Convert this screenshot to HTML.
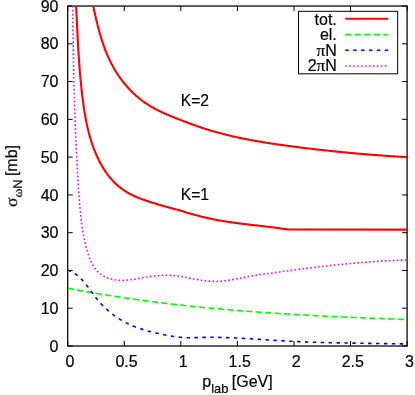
<!DOCTYPE html>
<html><head><meta charset="utf-8"><title>plot</title>
<style>html,body{margin:0;padding:0;background:#fff;}body{width:415px;height:395px;overflow:hidden;font-family:"Liberation Sans",sans-serif;}</style>
</head><body>
<svg width="415" height="395" viewBox="0 0 415 395" style="display:block">
<defs><clipPath id="c"><rect x="67.70" y="6.05" width="339.40" height="339.95"/></clipPath></defs>
<rect width="415" height="395" fill="#fff"/>
<g stroke="#000" stroke-width="1.25" fill="none">
<rect x="67.70" y="6.05" width="339.40" height="339.95"/>
<path d="M67.70,346.00h5 M407.10,346.00h-5" stroke-width="1"/>
<path d="M67.70,308.23h5 M407.10,308.23h-5" stroke-width="1"/>
<path d="M67.70,270.46h5 M407.10,270.46h-5" stroke-width="1"/>
<path d="M67.70,232.68h5 M407.10,232.68h-5" stroke-width="1"/>
<path d="M67.70,194.91h5 M407.10,194.91h-5" stroke-width="1"/>
<path d="M67.70,157.14h5 M407.10,157.14h-5" stroke-width="1"/>
<path d="M67.70,119.37h5 M407.10,119.37h-5" stroke-width="1"/>
<path d="M67.70,81.59h5 M407.10,81.59h-5" stroke-width="1"/>
<path d="M67.70,43.82h5 M407.10,43.82h-5" stroke-width="1"/>
<path d="M67.70,6.05h5 M407.10,6.05h-5" stroke-width="1"/>
<path d="M67.70,346.00v-5 M67.70,6.05v5" stroke-width="1"/>
<path d="M124.27,346.00v-5 M124.27,6.05v5" stroke-width="1"/>
<path d="M180.83,346.00v-5 M180.83,6.05v5" stroke-width="1"/>
<path d="M237.40,346.00v-5 M237.40,6.05v5" stroke-width="1"/>
<path d="M293.97,346.00v-5 M293.97,6.05v5" stroke-width="1"/>
<path d="M350.53,346.00v-5 M350.53,6.05v5" stroke-width="1"/>
<path d="M407.10,346.00v-5 M407.10,6.05v5" stroke-width="1"/>
</g>
<g fill="none" clip-path="url(#c)" stroke-linejoin="round">
<path d="M90.67,-5.97 L90.87,-5.02 L91.07,-4.07 L91.28,-3.12 L91.48,-2.17 L91.68,-1.21 L91.88,-0.26 L92.09,0.70 L92.29,1.66 L92.50,2.62 L92.70,3.58 L92.91,4.54 L93.11,5.50 L93.32,6.47 L93.53,7.43 L93.74,8.40 L93.95,9.36 L94.16,10.33 L94.37,11.29 L94.59,12.26 L94.80,13.23 L95.02,14.20 L95.24,15.16 L95.46,16.13 L95.68,17.10 L95.91,18.07 L96.14,19.04 L96.37,20.00 L96.60,20.97 L96.83,21.94 L97.07,22.91 L97.31,23.87 L97.55,24.84 L97.80,25.80 L98.05,26.77 L98.30,27.73 L98.55,28.70 L98.81,29.66 L99.07,30.62 L99.34,31.58 L99.61,32.54 L99.88,33.50 L100.16,34.45 L100.44,35.41 L100.72,36.36 L101.01,37.32 L101.30,38.27 L101.60,39.22 L101.90,40.16 L102.20,41.11 L102.51,42.05 L102.83,43.00 L103.15,43.94 L103.47,44.87 L103.80,45.81 L104.14,46.74 L104.48,47.68 L104.82,48.61 L105.17,49.53 L105.53,50.46 L105.89,51.38 L106.26,52.30 L106.63,53.21 L107.01,54.13 L107.40,55.04 L107.79,55.95 L108.19,56.85 L108.59,57.75 L109.00,58.65 L109.42,59.55 L109.84,60.44 L110.27,61.33 L110.71,62.22 L111.15,63.10 L111.60,63.98 L112.06,64.85 L112.53,65.72 L113.00,66.59 L113.48,67.45 L113.97,68.31 L114.46,69.17 L114.97,70.02 L115.48,70.87 L116.00,71.71 L116.52,72.55 L117.06,73.38 L117.60,74.21 L118.15,75.04 L118.70,75.86 L119.27,76.67 L119.84,77.48 L120.41,78.29 L121.00,79.09 L121.59,79.88 L122.19,80.67 L122.80,81.45 L123.41,82.23 L124.03,83.01 L124.66,83.77 L125.29,84.54 L125.94,85.29 L126.58,86.04 L127.24,86.78 L127.90,87.52 L128.57,88.25 L129.25,88.98 L129.93,89.70 L130.62,90.41 L131.31,91.11 L132.01,91.81 L132.72,92.50 L133.43,93.19 L134.15,93.86 L134.88,94.53 L135.61,95.20 L136.35,95.85 L137.10,96.50 L137.85,97.14 L138.61,97.77 L139.37,98.40 L140.14,99.02 L140.91,99.63 L141.70,100.23 L142.48,100.82 L143.27,101.41 L144.07,101.98 L144.88,102.55 L145.69,103.11 L146.50,103.67 L147.32,104.21 L148.15,104.74 L148.98,105.27 L149.82,105.78 L150.66,106.29 L151.51,106.79 L152.36,107.29 L153.22,107.77 L154.08,108.25 L154.94,108.72 L155.81,109.18 L156.69,109.64 L157.57,110.09 L158.45,110.53 L159.33,110.97 L160.22,111.40 L161.11,111.83 L162.01,112.25 L162.91,112.66 L163.81,113.07 L164.71,113.48 L165.62,113.88 L166.53,114.28 L167.44,114.67 L168.35,115.06 L169.27,115.44 L170.18,115.82 L171.10,116.20 L172.02,116.58 L172.94,116.95 L173.87,117.32 L174.79,117.69 L175.71,118.06 L176.64,118.42 L177.56,118.79 L178.49,119.15 L179.42,119.51 L180.34,119.87 L181.27,120.23 L182.20,120.59 L183.12,120.94 L184.05,121.30 L184.98,121.65 L185.91,122.00 L186.83,122.35 L187.76,122.70 L188.69,123.05 L189.62,123.40 L190.55,123.74 L191.48,124.08 L192.41,124.42 L193.34,124.76 L194.28,125.10 L195.21,125.43 L196.14,125.76 L197.08,126.09 L198.01,126.41 L198.95,126.74 L199.88,127.06 L200.82,127.37 L201.76,127.69 L202.70,128.00 L203.64,128.31 L204.58,128.61 L205.52,128.92 L206.46,129.22 L207.40,129.51 L208.35,129.80 L209.29,130.09 L210.24,130.38 L211.19,130.66 L212.13,130.94 L213.08,131.22 L214.03,131.49 L214.98,131.77 L215.93,132.03 L216.88,132.30 L217.84,132.56 L218.79,132.82 L219.74,133.08 L220.70,133.33 L221.65,133.58 L222.61,133.83 L223.57,134.08 L224.53,134.32 L225.48,134.56 L226.44,134.80 L227.40,135.04 L228.36,135.27 L229.33,135.50 L230.29,135.73 L231.25,135.96 L232.21,136.18 L233.18,136.40 L234.14,136.62 L235.11,136.83 L236.07,137.05 L237.04,137.26 L238.01,137.47 L238.97,137.68 L239.94,137.88 L240.91,138.08 L241.88,138.28 L242.85,138.48 L243.82,138.68 L244.79,138.87 L245.76,139.07 L246.73,139.26 L247.70,139.44 L248.68,139.63 L249.65,139.81 L250.62,140.00 L251.60,140.18 L252.57,140.36 L253.55,140.53 L254.52,140.71 L255.50,140.88 L256.47,141.06 L257.45,141.23 L258.43,141.39 L259.40,141.56 L260.38,141.73 L261.36,141.89 L262.34,142.05 L263.31,142.21 L264.29,142.37 L265.27,142.53 L266.25,142.69 L267.23,142.84 L268.21,142.99 L269.19,143.15 L270.17,143.30 L271.15,143.45 L272.13,143.60 L273.11,143.74 L274.09,143.89 L275.08,144.03 L276.06,144.18 L277.04,144.32 L278.02,144.46 L279.00,144.60 L279.98,144.74 L280.97,144.88 L281.95,145.02 L282.93,145.15 L283.91,145.29 L284.90,145.42 L285.88,145.56 L286.86,145.69 L287.85,145.82 L288.83,145.95 L289.81,146.08 L290.79,146.21 L291.78,146.34 L292.76,146.47 L293.74,146.60 L294.73,146.73 L295.71,146.85 L296.69,146.98 L297.68,147.11 L298.66,147.23 L299.64,147.35 L300.63,147.48 L301.61,147.60 L302.59,147.72 L303.58,147.84 L304.56,147.97 L305.54,148.09 L306.53,148.21 L307.51,148.32 L308.49,148.44 L309.47,148.56 L310.46,148.68 L311.44,148.80 L312.42,148.91 L313.41,149.03 L314.39,149.14 L315.37,149.26 L316.36,149.37 L317.34,149.48 L318.33,149.59 L319.31,149.71 L320.29,149.82 L321.28,149.93 L322.26,150.04 L323.24,150.15 L324.23,150.26 L325.21,150.36 L326.19,150.47 L327.18,150.58 L328.16,150.68 L329.15,150.79 L330.13,150.89 L331.11,151.00 L332.10,151.10 L333.08,151.20 L334.07,151.31 L335.05,151.41 L336.03,151.51 L337.02,151.61 L338.00,151.71 L338.99,151.81 L339.97,151.91 L340.96,152.01 L341.94,152.10 L342.93,152.20 L343.91,152.30 L344.90,152.39 L345.88,152.49 L346.87,152.58 L347.85,152.67 L348.84,152.77 L349.82,152.86 L350.81,152.95 L351.79,153.04 L352.78,153.13 L353.76,153.22 L354.75,153.31 L355.73,153.40 L356.72,153.49 L357.70,153.58 L358.69,153.66 L359.68,153.75 L360.66,153.84 L361.65,153.92 L362.63,154.01 L363.62,154.09 L364.61,154.17 L365.59,154.26 L366.58,154.34 L367.57,154.42 L368.55,154.50 L369.54,154.58 L370.53,154.66 L371.51,154.74 L372.50,154.82 L373.49,154.90 L374.48,154.97 L375.46,155.05 L376.45,155.13 L377.44,155.20 L378.43,155.28 L379.41,155.35 L380.40,155.42 L381.39,155.50 L382.38,155.57 L383.37,155.64 L384.35,155.71 L385.34,155.78 L386.33,155.85 L387.32,155.92 L388.31,155.99 L389.30,156.06 L390.29,156.13 L391.28,156.19 L392.26,156.26 L393.25,156.33 L394.24,156.39 L395.23,156.46 L396.22,156.52 L397.21,156.58 L398.20,156.65 L399.19,156.71 L400.18,156.77 L401.17,156.83 L402.16,156.89 L403.16,156.95 L404.15,157.01 L405.14,157.07 L406.13,157.13 L407.12,157.18" stroke="#ff0000" stroke-width="2.1"/>
<path d="M75.49,-5.99 L75.54,-5.05 L75.59,-4.10 L75.64,-3.16 L75.69,-2.21 L75.74,-1.27 L75.79,-0.32 L75.84,0.63 L75.89,1.57 L75.94,2.52 L75.99,3.46 L76.04,4.41 L76.08,5.36 L76.13,6.30 L76.18,7.25 L76.23,8.19 L76.27,9.14 L76.32,10.09 L76.37,11.03 L76.41,11.98 L76.46,12.93 L76.50,13.88 L76.55,14.82 L76.60,15.77 L76.64,16.72 L76.69,17.66 L76.73,18.61 L76.78,19.56 L76.82,20.51 L76.87,21.45 L76.91,22.40 L76.96,23.35 L77.01,24.30 L77.05,25.24 L77.10,26.19 L77.15,27.14 L77.19,28.09 L77.24,29.03 L77.29,29.98 L77.33,30.93 L77.38,31.88 L77.43,32.82 L77.48,33.77 L77.52,34.72 L77.57,35.67 L77.62,36.62 L77.67,37.56 L77.72,38.51 L77.77,39.46 L77.82,40.41 L77.87,41.35 L77.93,42.30 L77.98,43.25 L78.03,44.20 L78.08,45.14 L78.14,46.09 L78.19,47.04 L78.25,47.99 L78.30,48.93 L78.36,49.88 L78.42,50.83 L78.48,51.78 L78.53,52.72 L78.59,53.67 L78.65,54.62 L78.71,55.56 L78.78,56.51 L78.84,57.46 L78.90,58.41 L78.97,59.35 L79.03,60.30 L79.10,61.25 L79.16,62.19 L79.23,63.14 L79.30,64.08 L79.37,65.03 L79.44,65.98 L79.51,66.92 L79.58,67.87 L79.66,68.82 L79.73,69.76 L79.81,70.71 L79.89,71.65 L79.96,72.60 L80.04,73.54 L80.12,74.49 L80.21,75.43 L80.29,76.38 L80.37,77.32 L80.46,78.27 L80.55,79.21 L80.63,80.16 L80.72,81.10 L80.81,82.04 L80.91,82.99 L81.00,83.93 L81.10,84.88 L81.19,85.82 L81.29,86.76 L81.39,87.71 L81.49,88.65 L81.59,89.59 L81.70,90.53 L81.80,91.48 L81.91,92.42 L82.02,93.36 L82.13,94.30 L82.24,95.24 L82.35,96.19 L82.47,97.13 L82.58,98.07 L82.70,99.01 L82.82,99.95 L82.95,100.89 L83.07,101.83 L83.20,102.77 L83.32,103.71 L83.45,104.65 L83.59,105.59 L83.72,106.53 L83.86,107.46 L84.00,108.40 L84.14,109.34 L84.28,110.28 L84.43,111.21 L84.58,112.15 L84.73,113.08 L84.89,114.02 L85.05,114.95 L85.21,115.89 L85.38,116.82 L85.55,117.75 L85.72,118.68 L85.89,119.61 L86.07,120.54 L86.26,121.47 L86.44,122.40 L86.63,123.33 L86.83,124.25 L87.03,125.18 L87.23,126.10 L87.44,127.02 L87.65,127.95 L87.87,128.87 L88.09,129.79 L88.31,130.71 L88.54,131.63 L88.78,132.54 L89.02,133.46 L89.26,134.37 L89.51,135.29 L89.76,136.20 L90.02,137.11 L90.29,138.02 L90.56,138.93 L90.84,139.83 L91.12,140.74 L91.40,141.64 L91.70,142.54 L92.00,143.44 L92.30,144.34 L92.61,145.24 L92.93,146.14 L93.25,147.03 L93.58,147.92 L93.92,148.82 L94.26,149.71 L94.61,150.59 L94.96,151.48 L95.32,152.36 L95.69,153.25 L96.07,154.12 L96.45,155.00 L96.84,155.88 L97.24,156.75 L97.64,157.61 L98.05,158.48 L98.47,159.34 L98.89,160.20 L99.32,161.05 L99.76,161.90 L100.21,162.74 L100.67,163.58 L101.13,164.42 L101.60,165.25 L102.07,166.08 L102.56,166.90 L103.05,167.71 L103.55,168.52 L104.06,169.33 L104.58,170.12 L105.10,170.91 L105.64,171.70 L106.18,172.48 L106.73,173.25 L107.29,174.01 L107.85,174.77 L108.43,175.52 L109.01,176.27 L109.60,177.00 L110.20,177.73 L110.81,178.45 L111.43,179.16 L112.05,179.86 L112.69,180.56 L113.33,181.24 L113.99,181.92 L114.65,182.58 L115.32,183.24 L116.00,183.89 L116.69,184.53 L117.39,185.16 L118.10,185.77 L118.82,186.38 L119.55,186.98 L120.28,187.57 L121.03,188.14 L121.79,188.71 L122.55,189.26 L123.32,189.81 L124.10,190.34 L124.89,190.86 L125.69,191.38 L126.49,191.88 L127.30,192.37 L128.12,192.85 L128.94,193.32 L129.77,193.78 L130.61,194.22 L131.45,194.66 L132.30,195.09 L133.15,195.50 L134.01,195.91 L134.87,196.30 L135.74,196.69 L136.61,197.06 L137.49,197.43 L138.36,197.79 L139.25,198.14 L140.13,198.49 L141.02,198.82 L141.91,199.16 L142.80,199.48 L143.70,199.80 L144.59,200.11 L145.49,200.42 L146.39,200.73 L147.29,201.03 L148.19,201.33 L149.09,201.62 L149.99,201.92 L150.89,202.20 L151.80,202.49 L152.70,202.77 L153.61,203.05 L154.52,203.32 L155.42,203.60 L156.33,203.87 L157.24,204.13 L158.15,204.40 L159.06,204.67 L159.97,204.93 L160.88,205.19 L161.79,205.45 L162.70,205.71 L163.61,205.96 L164.53,206.22 L165.44,206.47 L166.35,206.73 L167.26,206.98 L168.18,207.23 L169.09,207.48 L170.00,207.74 L170.92,207.99 L171.83,208.24 L172.74,208.49 L173.66,208.75 L174.57,209.00 L175.48,209.25 L176.40,209.51 L177.31,209.77 L178.22,210.02 L179.13,210.28 L180.04,210.54 L180.95,210.80 L181.87,211.07 L182.78,211.33 L183.69,211.59 L184.60,211.86 L185.51,212.12 L186.42,212.39 L187.33,212.65 L188.24,212.92 L189.15,213.18 L190.06,213.45 L190.97,213.71 L191.88,213.97 L192.79,214.23 L193.70,214.49 L194.62,214.74 L195.53,215.00 L196.44,215.25 L197.36,215.50 L198.27,215.74 L199.18,215.99 L200.10,216.23 L201.02,216.47 L201.93,216.70 L202.85,216.93 L203.77,217.16 L204.69,217.38 L205.61,217.60 L206.53,217.82 L207.46,218.03 L208.38,218.23 L209.30,218.44 L210.23,218.64 L211.16,218.83 L212.08,219.02 L213.01,219.21 L213.94,219.40 L214.87,219.58 L215.80,219.76 L216.73,219.93 L217.66,220.11 L218.59,220.28 L219.53,220.44 L220.46,220.61 L221.39,220.77 L222.33,220.92 L223.26,221.08 L224.20,221.23 L225.14,221.38 L226.07,221.53 L227.01,221.67 L227.95,221.82 L228.89,221.96 L229.83,222.10 L230.77,222.23 L231.71,222.37 L232.65,222.50 L233.59,222.63 L234.53,222.76 L235.47,222.88 L236.41,223.01 L237.35,223.13 L238.30,223.26 L239.24,223.38 L240.18,223.50 L241.12,223.61 L242.07,223.73 L243.01,223.85 L243.96,223.96 L244.90,224.08 L245.84,224.19 L246.79,224.30 L247.73,224.41 L248.68,224.52 L249.62,224.63 L250.57,224.74 L251.51,224.85 L252.45,224.96 L253.40,225.07 L254.34,225.18 L255.29,225.29 L256.23,225.39 L257.18,225.50 L258.12,225.61 L259.06,225.72 L260.01,225.83 L260.95,225.94 L261.90,226.05 L262.84,226.15 L263.78,226.27 L264.73,226.38 L265.67,226.49 L266.61,226.60 L267.55,226.71 L268.49,226.83 L269.44,226.94 L270.38,227.06 L271.32,227.18 L272.26,227.29 L273.20,227.41 L274.14,227.53 L275.08,227.66 L276.02,227.78 L276.95,227.91 L277.89,228.03 L278.83,228.16 L279.76,228.29 L280.70,228.43 L281.64,228.56 L282.57,228.70 L283.51,228.84 L284.44,228.98 L285.37,229.12 L286.30,229.27 L287.24,229.41 L288.17,229.56 L407.1,229.6" stroke="#ff0000" stroke-width="2.1"/>
<path d="M67.68,288.19 L68.52,288.35 L69.36,288.51 L70.20,288.67 L71.05,288.83 L71.89,288.99 L72.73,289.15 L73.57,289.31 L74.41,289.47 L75.25,289.62 L76.09,289.78 L76.94,289.93 L77.78,290.09 L78.62,290.24 L79.46,290.40 L80.30,290.55 L81.15,290.70 L81.99,290.86 L82.83,291.01 L83.67,291.16 L84.52,291.31 L85.36,291.46 L86.20,291.61 L87.04,291.76 L87.89,291.90 L88.73,292.05 L89.57,292.20 L90.42,292.35 L91.26,292.49 L92.10,292.64 L92.95,292.78 L93.79,292.93 L94.63,293.07 L95.48,293.21 L96.32,293.35 L97.16,293.50 L98.01,293.64 L98.85,293.78 L99.69,293.92 L100.54,294.06 L101.38,294.20 L102.23,294.34 L103.07,294.48 L103.91,294.61 L104.76,294.75 L105.60,294.89 L106.45,295.02 L107.29,295.16 L108.14,295.29 L108.98,295.43 L109.83,295.56 L110.67,295.69 L111.52,295.83 L112.36,295.96 L113.21,296.09 L114.05,296.22 L114.90,296.35 L115.74,296.48 L116.59,296.61 L117.43,296.74 L118.28,296.87 L119.12,297.00 L119.97,297.13 L120.81,297.26 L121.66,297.38 L122.50,297.51 L123.35,297.63 L124.20,297.76 L125.04,297.88 L125.89,298.01 L126.73,298.13 L127.58,298.25 L128.43,298.38 L129.27,298.50 L130.12,298.62 L130.96,298.74 L131.81,298.86 L132.66,298.98 L133.50,299.10 L134.35,299.22 L135.20,299.34 L136.04,299.46 L136.89,299.58 L137.74,299.69 L138.58,299.81 L139.43,299.93 L140.28,300.04 L141.13,300.16 L141.97,300.27 L142.82,300.39 L143.67,300.50 L144.51,300.61 L145.36,300.73 L146.21,300.84 L147.06,300.95 L147.90,301.06 L148.75,301.17 L149.60,301.28 L150.45,301.39 L151.30,301.50 L152.14,301.61 L152.99,301.72 L153.84,301.83 L154.69,301.94 L155.54,302.05 L156.38,302.15 L157.23,302.26 L158.08,302.37 L158.93,302.47 L159.78,302.58 L160.62,302.68 L161.47,302.78 L162.32,302.89 L163.17,302.99 L164.02,303.09 L164.87,303.20 L165.72,303.30 L166.56,303.40 L167.41,303.50 L168.26,303.60 L169.11,303.70 L169.96,303.80 L170.81,303.90 L171.66,304.00 L172.51,304.10 L173.36,304.20 L174.21,304.29 L175.06,304.39 L175.90,304.49 L176.75,304.59 L177.60,304.68 L178.45,304.78 L179.30,304.87 L180.15,304.97 L181.00,305.06 L181.85,305.15 L182.70,305.25 L183.55,305.34 L184.40,305.43 L185.25,305.53 L186.10,305.62 L186.95,305.71 L187.80,305.80 L188.65,305.89 L189.50,305.98 L190.35,306.07 L191.20,306.16 L192.05,306.25 L192.90,306.34 L193.75,306.43 L194.60,306.51 L195.45,306.60 L196.30,306.69 L197.15,306.78 L198.00,306.86 L198.85,306.95 L199.71,307.03 L200.56,307.12 L201.41,307.20 L202.26,307.29 L203.11,307.37 L203.96,307.45 L204.81,307.54 L205.66,307.62 L206.51,307.70 L207.36,307.78 L208.21,307.87 L209.07,307.95 L209.92,308.03 L210.77,308.11 L211.62,308.19 L212.47,308.27 L213.32,308.35 L214.17,308.43 L215.02,308.51 L215.88,308.58 L216.73,308.66 L217.58,308.74 L218.43,308.82 L219.28,308.89 L220.13,308.97 L220.98,309.05 L221.84,309.12 L222.69,309.20 L223.54,309.27 L224.39,309.35 L225.24,309.42 L226.10,309.50 L226.95,309.57 L227.80,309.64 L228.65,309.72 L229.50,309.79 L230.35,309.86 L231.21,309.93 L232.06,310.01 L232.91,310.08 L233.76,310.15 L234.62,310.22 L235.47,310.29 L236.32,310.36 L237.17,310.43 L238.02,310.50 L238.88,310.57 L239.73,310.64 L240.58,310.71 L241.43,310.77 L242.29,310.84 L243.14,310.91 L243.99,310.98 L244.84,311.04 L245.70,311.11 L246.55,311.18 L247.40,311.24 L248.25,311.31 L249.11,311.37 L249.96,311.44 L250.81,311.50 L251.67,311.57 L252.52,311.63 L253.37,311.69 L254.22,311.76 L255.08,311.82 L255.93,311.88 L256.78,311.95 L257.64,312.01 L258.49,312.07 L259.34,312.13 L260.20,312.19 L261.05,312.26 L261.90,312.32 L262.75,312.38 L263.61,312.44 L264.46,312.50 L265.31,312.56 L266.17,312.62 L267.02,312.67 L267.87,312.73 L268.73,312.79 L269.58,312.85 L270.43,312.91 L271.29,312.97 L272.14,313.02 L272.99,313.08 L273.85,313.14 L274.70,313.19 L275.55,313.25 L276.41,313.31 L277.26,313.36 L278.11,313.42 L278.97,313.47 L279.82,313.53 L280.68,313.58 L281.53,313.64 L282.38,313.69 L283.24,313.75 L284.09,313.80 L284.94,313.85 L285.80,313.91 L286.65,313.96 L287.51,314.01 L288.36,314.06 L289.21,314.12 L290.07,314.17 L290.92,314.22 L291.77,314.27 L292.63,314.32 L293.48,314.37 L294.34,314.42 L295.19,314.48 L296.04,314.53 L296.90,314.58 L297.75,314.63 L298.61,314.68 L299.46,314.72 L300.31,314.77 L301.17,314.82 L302.02,314.87 L302.88,314.92 L303.73,314.97 L304.58,315.02 L305.44,315.06 L306.29,315.11 L307.15,315.16 L308.00,315.21 L308.85,315.25 L309.71,315.30 L310.56,315.35 L311.42,315.39 L312.27,315.44 L313.12,315.48 L313.98,315.53 L314.83,315.58 L315.69,315.62 L316.54,315.67 L317.40,315.71 L318.25,315.75 L319.10,315.80 L319.96,315.84 L320.81,315.89 L321.67,315.93 L322.52,315.97 L323.37,316.02 L324.23,316.06 L325.08,316.10 L325.94,316.15 L326.79,316.19 L327.65,316.23 L328.50,316.27 L329.35,316.32 L330.21,316.36 L331.06,316.40 L331.92,316.44 L332.77,316.48 L333.63,316.52 L334.48,316.57 L335.33,316.61 L336.19,316.65 L337.04,316.69 L337.90,316.73 L338.75,316.77 L339.61,316.81 L340.46,316.85 L341.32,316.89 L342.17,316.93 L343.02,316.97 L343.88,317.01 L344.73,317.04 L345.59,317.08 L346.44,317.12 L347.30,317.16 L348.15,317.20 L349.00,317.24 L349.86,317.28 L350.71,317.31 L351.57,317.35 L352.42,317.39 L353.28,317.43 L354.13,317.46 L354.98,317.50 L355.84,317.54 L356.69,317.58 L357.55,317.61 L358.40,317.65 L359.26,317.69 L360.11,317.72 L360.97,317.76 L361.82,317.79 L362.67,317.83 L363.53,317.87 L364.38,317.90 L365.24,317.94 L366.09,317.97 L366.95,318.01 L367.80,318.04 L368.65,318.08 L369.51,318.11 L370.36,318.15 L371.22,318.18 L372.07,318.22 L372.92,318.25 L373.78,318.29 L374.63,318.32 L375.49,318.35 L376.34,318.39 L377.20,318.42 L378.05,318.46 L378.90,318.49 L379.76,318.52 L380.61,318.56 L381.47,318.59 L382.32,318.62 L383.18,318.66 L384.03,318.69 L384.88,318.72 L385.74,318.76 L386.59,318.79 L387.45,318.82 L388.30,318.85 L389.15,318.89 L390.01,318.92 L390.86,318.95 L391.72,318.98 L392.57,319.01 L393.42,319.05 L394.28,319.08 L395.13,319.11 L395.99,319.14 L396.84,319.17 L397.69,319.21 L398.55,319.24 L399.40,319.27 L400.26,319.30 L401.11,319.33 L401.96,319.36 L402.82,319.39 L403.67,319.43 L404.52,319.46 L405.38,319.49 L406.23,319.52 L407.09,319.55" stroke="#00ff00" stroke-width="1.6" stroke-dasharray="6.32 3.16"/>
<path d="M67.86,270.18 L68.74,270.48 L69.59,270.81 L70.43,271.17 L71.25,271.54 L72.05,271.94 L72.84,272.36 L73.61,272.80 L74.36,273.26 L75.10,273.74 L75.82,274.24 L76.53,274.76 L77.22,275.30 L77.91,275.85 L78.58,276.42 L79.23,277.00 L79.88,277.60 L80.52,278.21 L81.14,278.84 L81.76,279.47 L82.36,280.12 L82.96,280.79 L83.55,281.46 L84.14,282.14 L84.71,282.83 L85.28,283.53 L85.85,284.24 L86.41,284.95 L86.96,285.67 L87.52,286.40 L88.06,287.13 L88.61,287.87 L89.15,288.61 L89.70,289.35 L90.24,290.10 L90.78,290.85 L91.32,291.60 L91.86,292.35 L92.41,293.09 L92.95,293.84 L93.50,294.59 L94.05,295.33 L94.61,296.07 L95.17,296.81 L95.73,297.54 L96.30,298.27 L96.88,298.99 L97.46,299.70 L98.05,300.41 L98.65,301.11 L99.25,301.81 L99.86,302.49 L100.47,303.17 L101.10,303.85 L101.72,304.52 L102.36,305.18 L103.00,305.83 L103.64,306.48 L104.30,307.12 L104.95,307.75 L105.62,308.38 L106.29,308.99 L106.96,309.60 L107.64,310.21 L108.33,310.81 L109.02,311.40 L109.72,311.98 L110.43,312.55 L111.14,313.12 L111.85,313.68 L112.57,314.24 L113.29,314.78 L114.02,315.32 L114.76,315.85 L115.50,316.37 L116.25,316.89 L117.00,317.40 L117.75,317.90 L118.51,318.39 L119.28,318.88 L120.04,319.35 L120.82,319.82 L121.60,320.28 L122.38,320.74 L123.17,321.18 L123.96,321.62 L124.76,322.05 L125.56,322.47 L126.36,322.89 L127.17,323.29 L127.98,323.69 L128.80,324.08 L129.62,324.46 L130.44,324.84 L131.27,325.20 L132.10,325.56 L132.94,325.92 L133.78,326.26 L134.62,326.60 L135.46,326.93 L136.31,327.25 L137.16,327.57 L138.02,327.88 L138.87,328.19 L139.73,328.48 L140.60,328.78 L141.46,329.06 L142.33,329.34 L143.20,329.62 L144.07,329.89 L144.94,330.15 L145.82,330.41 L146.70,330.66 L147.58,330.91 L148.46,331.15 L149.34,331.39 L150.23,331.62 L151.11,331.85 L152.00,332.08 L152.89,332.30 L153.78,332.51 L154.67,332.73 L155.57,332.93 L156.46,333.14 L157.35,333.34 L158.25,333.54 L159.14,333.73 L160.04,333.92 L160.94,334.11 L161.83,334.29 L162.73,334.48 L163.63,334.65 L164.53,334.83 L165.42,335.00 L166.32,335.18 L167.22,335.35 L168.12,335.51 L169.01,335.67 L169.91,335.83 L170.81,335.99 L171.71,336.13 L172.61,336.28 L173.50,336.42 L174.40,336.55 L175.30,336.68 L176.20,336.81 L177.10,336.92 L178.00,337.03 L178.90,337.13 L179.80,337.23 L180.70,337.32 L181.60,337.40 L182.50,337.47 L183.40,337.53 L184.31,337.59 L185.21,337.63 L186.11,337.67 L187.02,337.69 L187.92,337.71 L188.83,337.72 L189.74,337.73 L190.64,337.72 L191.55,337.71 L192.46,337.70 L193.36,337.68 L194.27,337.66 L195.18,337.64 L196.09,337.61 L197.00,337.58 L197.91,337.55 L198.82,337.52 L199.73,337.49 L200.63,337.47 L201.54,337.44 L202.45,337.42 L203.36,337.40 L204.27,337.38 L205.18,337.36 L206.09,337.35 L207.00,337.34 L207.91,337.33 L208.82,337.32 L209.73,337.32 L210.63,337.32 L211.54,337.32 L212.45,337.32 L213.36,337.32 L214.27,337.33 L215.18,337.34 L216.09,337.35 L217.00,337.36 L217.91,337.38 L218.81,337.39 L219.72,337.41 L220.63,337.43 L221.54,337.45 L222.45,337.47 L223.36,337.50 L224.27,337.52 L225.18,337.55 L226.08,337.58 L226.99,337.61 L227.90,337.64 L228.81,337.68 L229.72,337.71 L230.63,337.75 L231.54,337.78 L232.45,337.82 L233.35,337.86 L234.26,337.91 L235.17,337.95 L236.08,337.99 L236.99,338.04 L237.90,338.08 L238.81,338.13 L239.71,338.18 L240.62,338.22 L241.53,338.27 L242.44,338.32 L243.35,338.38 L244.26,338.43 L245.17,338.48 L246.07,338.53 L246.98,338.59 L247.89,338.64 L248.80,338.70 L249.71,338.75 L250.62,338.81 L251.53,338.87 L252.44,338.93 L253.34,338.98 L254.25,339.04 L255.16,339.10 L256.07,339.16 L256.98,339.22 L257.89,339.28 L258.80,339.34 L259.70,339.40 L260.61,339.46 L261.52,339.51 L262.43,339.57 L263.34,339.63 L264.25,339.69 L265.16,339.75 L266.07,339.81 L266.97,339.87 L267.88,339.93 L268.79,339.99 L269.70,340.05 L270.61,340.11 L271.52,340.17 L272.43,340.22 L273.34,340.28 L274.25,340.34 L275.15,340.39 L276.06,340.45 L276.97,340.50 L277.88,340.56 L278.79,340.61 L279.70,340.67 L280.61,340.72 L281.52,340.77 L282.43,340.82 L283.34,340.87 L284.25,340.92 L285.15,340.97 L286.06,341.02 L286.97,341.07 L287.88,341.11 L288.79,341.16 L289.70,341.21 L290.61,341.25 L291.52,341.29 L292.43,341.34 L293.34,341.38 L294.25,341.42 L295.16,341.46 L296.07,341.51 L296.97,341.55 L297.88,341.59 L298.79,341.63 L299.70,341.66 L300.61,341.70 L301.52,341.74 L302.43,341.78 L303.34,341.81 L304.25,341.85 L305.16,341.88 L306.07,341.92 L306.98,341.95 L307.89,341.99 L308.80,342.02 L309.71,342.05 L310.62,342.08 L311.53,342.12 L312.44,342.15 L313.35,342.18 L314.26,342.21 L315.17,342.24 L316.08,342.27 L316.99,342.30 L317.90,342.32 L318.81,342.35 L319.71,342.38 L320.62,342.41 L321.53,342.43 L322.44,342.46 L323.35,342.48 L324.26,342.51 L325.17,342.53 L326.08,342.56 L326.99,342.58 L327.90,342.61 L328.81,342.63 L329.72,342.65 L330.63,342.68 L331.54,342.70 L332.45,342.72 L333.36,342.74 L334.27,342.76 L335.18,342.78 L336.09,342.80 L337.00,342.82 L337.91,342.84 L338.82,342.86 L339.73,342.88 L340.64,342.90 L341.55,342.92 L342.46,342.94 L343.37,342.96 L344.28,342.98 L345.19,342.99 L346.10,343.01 L347.01,343.03 L347.92,343.04 L348.84,343.06 L349.75,343.08 L350.66,343.09 L351.57,343.11 L352.48,343.13 L353.39,343.14 L354.30,343.16 L355.21,343.17 L356.12,343.19 L357.03,343.20 L357.94,343.22 L358.85,343.23 L359.76,343.25 L360.67,343.26 L361.58,343.28 L362.49,343.29 L363.40,343.30 L364.31,343.32 L365.22,343.33 L366.13,343.35 L367.04,343.36 L367.95,343.37 L368.86,343.39 L369.77,343.40 L370.68,343.41 L371.59,343.43 L372.50,343.44 L373.41,343.45 L374.32,343.47 L375.23,343.48 L376.14,343.49 L377.06,343.50 L377.97,343.52 L378.88,343.53 L379.79,343.54 L380.70,343.56 L381.61,343.57 L382.52,343.58 L383.43,343.60 L384.34,343.61 L385.25,343.62 L386.16,343.63 L387.07,343.65 L387.98,343.66 L388.89,343.67 L389.80,343.69 L390.71,343.70 L391.62,343.72 L392.53,343.73 L393.44,343.74 L394.36,343.76 L395.27,343.77 L396.18,343.79 L397.09,343.80 L398.00,343.81 L398.91,343.83 L399.82,343.84 L400.73,343.86 L401.64,343.87 L402.55,343.89 L403.46,343.90 L404.37,343.92 L405.28,343.93 L406.19,343.95 L407.10,343.97" stroke="#0000ff" stroke-width="1.6" stroke-dasharray="3.46 4.44"/>
<path d="M72.53,-5.99 L72.55,-4.50 L72.57,-3.01 L72.58,-1.52 L72.60,-0.03 L72.62,1.46 L72.64,2.95 L72.65,4.44 L72.67,5.93 L72.69,7.42 L72.71,8.91 L72.73,10.40 L72.74,11.89 L72.76,13.38 L72.78,14.87 L72.80,16.36 L72.82,17.85 L72.84,19.34 L72.86,20.83 L72.88,22.32 L72.90,23.81 L72.92,25.30 L72.94,26.79 L72.96,28.28 L72.98,29.77 L73.01,31.27 L73.03,32.76 L73.05,34.25 L73.07,35.74 L73.10,37.23 L73.12,38.72 L73.14,40.22 L73.17,41.71 L73.19,43.20 L73.22,44.69 L73.24,46.18 L73.27,47.68 L73.29,49.17 L73.32,50.66 L73.35,52.15 L73.37,53.65 L73.40,55.14 L73.43,56.63 L73.46,58.12 L73.49,59.62 L73.51,61.11 L73.54,62.60 L73.57,64.09 L73.61,65.59 L73.64,67.08 L73.67,68.57 L73.70,70.06 L73.73,71.56 L73.77,73.05 L73.80,74.54 L73.83,76.03 L73.87,77.53 L73.90,79.02 L73.94,80.51 L73.98,82.00 L74.01,83.50 L74.05,84.99 L74.09,86.48 L74.13,87.97 L74.17,89.47 L74.21,90.96 L74.25,92.45 L74.29,93.94 L74.33,95.44 L74.37,96.93 L74.42,98.42 L74.46,99.91 L74.51,101.41 L74.55,102.90 L74.60,104.39 L74.64,105.88 L74.69,107.38 L74.74,108.87 L74.79,110.36 L74.84,111.85 L74.89,113.34 L74.94,114.84 L74.99,116.33 L75.04,117.82 L75.09,119.31 L75.15,120.80 L75.20,122.29 L75.26,123.78 L75.31,125.28 L75.37,126.77 L75.43,128.26 L75.49,129.75 L75.55,131.24 L75.61,132.73 L75.67,134.22 L75.73,135.71 L75.79,137.20 L75.86,138.69 L75.92,140.18 L75.99,141.67 L76.05,143.16 L76.12,144.65 L76.19,146.14 L76.26,147.63 L76.33,149.12 L76.40,150.61 L76.47,152.10 L76.54,153.59 L76.62,155.08 L76.69,156.57 L76.77,158.06 L76.84,159.55 L76.92,161.03 L77.00,162.52 L77.08,164.01 L77.16,165.50 L77.24,166.99 L77.32,168.47 L77.41,169.96 L77.49,171.45 L77.58,172.94 L77.67,174.42 L77.75,175.91 L77.84,177.40 L77.93,178.88 L78.02,180.37 L78.11,181.85 L78.21,183.34 L78.30,184.83 L78.40,186.31 L78.49,187.80 L78.59,189.28 L78.69,190.77 L78.79,192.25 L78.89,193.74 L78.99,195.22 L79.10,196.70 L79.21,198.19 L79.31,199.67 L79.43,201.16 L79.54,202.64 L79.66,204.12 L79.78,205.60 L79.91,207.09 L80.04,208.57 L80.18,210.05 L80.32,211.53 L80.46,213.01 L80.62,214.49 L80.78,215.98 L80.94,217.46 L81.12,218.94 L81.30,220.42 L81.48,221.90 L81.68,223.37 L81.89,224.85 L82.10,226.33 L82.32,227.81 L82.55,229.29 L82.80,230.77 L83.05,232.24 L83.31,233.72 L83.58,235.20 L83.87,236.67 L84.16,238.15 L84.47,239.62 L84.79,241.10 L85.12,242.57 L85.47,244.05 L85.83,245.52 L86.20,246.99 L86.59,248.47 L86.99,249.94 L87.40,251.41 L87.84,252.88 L88.29,254.34 L88.76,255.80 L89.26,257.23 L89.79,258.65 L90.35,260.05 L90.94,261.43 L91.57,262.77 L92.24,264.09 L92.95,265.36 L93.71,266.60 L94.51,267.80 L95.36,268.95 L96.27,270.04 L97.24,271.09 L98.26,272.08 L99.33,273.01 L100.45,273.89 L101.62,274.71 L102.84,275.47 L104.09,276.18 L105.38,276.83 L106.71,277.43 L108.06,277.97 L109.45,278.45 L110.85,278.88 L112.28,279.25 L113.73,279.56 L115.19,279.82 L116.66,280.03 L118.14,280.17 L119.62,280.27 L121.12,280.31 L122.61,280.31 L124.12,280.27 L125.63,280.19 L127.14,280.08 L128.66,279.93 L130.18,279.76 L131.70,279.56 L133.22,279.35 L134.74,279.11 L136.26,278.86 L137.78,278.61 L139.30,278.34 L140.82,278.07 L142.33,277.81 L143.84,277.55 L145.34,277.29 L146.84,277.05 L148.34,276.82 L149.83,276.60 L151.31,276.39 L152.79,276.21 L154.27,276.03 L155.75,275.88 L157.22,275.74 L158.69,275.61 L160.15,275.51 L161.62,275.43 L163.08,275.37 L164.55,275.32 L166.01,275.31 L167.47,275.31 L168.93,275.34 L170.39,275.39 L171.86,275.47 L173.32,275.57 L174.78,275.70 L176.25,275.86 L177.72,276.05 L179.19,276.26 L180.66,276.48 L182.14,276.73 L183.61,276.99 L185.09,277.26 L186.56,277.54 L188.04,277.83 L189.52,278.12 L191.00,278.42 L192.48,278.71 L193.95,278.99 L195.43,279.27 L196.91,279.54 L198.39,279.80 L199.87,280.04 L201.34,280.27 L202.82,280.49 L204.30,280.68 L205.77,280.86 L207.25,281.01 L208.72,281.14 L210.20,281.25 L211.67,281.34 L213.15,281.40 L214.62,281.43 L216.10,281.44 L217.57,281.41 L219.04,281.35 L220.51,281.26 L221.99,281.14 L223.46,281.00 L224.93,280.82 L226.40,280.62 L227.87,280.40 L229.34,280.17 L230.82,279.91 L232.29,279.65 L233.76,279.37 L235.23,279.09 L236.70,278.80 L238.17,278.51 L239.64,278.21 L241.11,277.92 L242.58,277.64 L244.06,277.36 L245.53,277.09 L247.00,276.82 L248.47,276.56 L249.95,276.31 L251.42,276.07 L252.89,275.83 L254.37,275.59 L255.84,275.36 L257.31,275.13 L258.79,274.91 L260.26,274.69 L261.74,274.47 L263.21,274.25 L264.69,274.04 L266.16,273.83 L267.64,273.61 L269.11,273.40 L270.59,273.19 L272.06,272.98 L273.54,272.77 L275.02,272.56 L276.49,272.36 L277.97,272.15 L279.45,271.94 L280.92,271.74 L282.40,271.53 L283.88,271.33 L285.36,271.13 L286.83,270.92 L288.31,270.72 L289.79,270.52 L291.27,270.32 L292.75,270.13 L294.22,269.93 L295.70,269.74 L297.18,269.54 L298.66,269.35 L300.14,269.16 L301.62,268.97 L303.10,268.78 L304.58,268.59 L306.06,268.40 L307.54,268.22 L309.02,268.03 L310.50,267.85 L311.98,267.67 L313.46,267.49 L314.94,267.31 L316.42,267.13 L317.90,266.95 L319.39,266.78 L320.87,266.61 L322.35,266.44 L323.83,266.27 L325.31,266.10 L326.80,265.93 L328.28,265.77 L329.76,265.60 L331.24,265.44 L332.73,265.28 L334.21,265.12 L335.69,264.97 L337.18,264.81 L338.66,264.66 L340.15,264.51 L341.63,264.36 L343.11,264.21 L344.60,264.06 L346.08,263.92 L347.57,263.78 L349.05,263.64 L350.54,263.50 L352.02,263.37 L353.51,263.23 L354.99,263.10 L356.48,262.97 L357.97,262.84 L359.45,262.72 L360.94,262.60 L362.43,262.47 L363.91,262.36 L365.40,262.24 L366.89,262.12 L368.37,262.01 L369.86,261.90 L371.35,261.79 L372.84,261.69 L374.33,261.59 L375.81,261.49 L377.30,261.39 L378.79,261.29 L380.28,261.20 L381.77,261.11 L383.26,261.02 L384.75,260.93 L386.24,260.85 L387.72,260.77 L389.21,260.69 L390.70,260.62 L392.19,260.54 L393.68,260.47 L395.18,260.41 L396.67,260.34 L398.16,260.28 L399.65,260.22 L401.14,260.16 L402.63,260.11 L404.12,260.06 L405.61,260.01 L407.10,259.97" stroke="#ff00ff" stroke-width="1.6" stroke-dasharray="1.65 2.30"/>
</g>
<rect x="298.5" y="11.3" width="99.15" height="62.5" fill="#fff" stroke="#000" stroke-width="1"/>
<g fill="none">
<path d="M345.3,18.8H388.3" stroke="#ff0000" stroke-width="2.1"/>
<path d="M345.3,34.6H388.3" stroke="#00ff00" stroke-width="1.6" stroke-dasharray="6.32 3.16"/>
<path d="M345.3,50.3H388.3" stroke="#0000ff" stroke-width="1.6" stroke-dasharray="3.46 4.44"/>
<path d="M345.3,66H388.3" stroke="#ff00ff" stroke-width="1.6" stroke-dasharray="1.65 2.30"/>
</g>
<g font-family="'Liberation Sans', sans-serif" font-size="16" fill="#000" stroke="#000" stroke-width="0.2" opacity="0.999">
<text x="336.8" y="24.5" text-anchor="end">tot.</text>
<text x="336.8" y="40.1" text-anchor="end">el.</text>
<text x="336.8" y="55.6" text-anchor="end"><tspan font-family="'Liberation Serif', serif" font-size="17.2">π</tspan>N</text>
<text x="336.8" y="71.2" text-anchor="end">2<tspan font-family="'Liberation Serif', serif" font-size="17.2">π</tspan>N</text>
<text x="58.45" y="351.60" text-anchor="end">0</text>
<text x="58.45" y="313.83" text-anchor="end">10</text>
<text x="58.45" y="276.06" text-anchor="end">20</text>
<text x="58.45" y="238.28" text-anchor="end">30</text>
<text x="58.45" y="200.51" text-anchor="end">40</text>
<text x="58.45" y="162.74" text-anchor="end">50</text>
<text x="58.45" y="124.97" text-anchor="end">60</text>
<text x="58.45" y="87.19" text-anchor="end">70</text>
<text x="58.45" y="49.42" text-anchor="end">80</text>
<text x="58.45" y="11.65" text-anchor="end">90</text>
<text x="70.00" y="367.2" text-anchor="middle">0</text>
<text x="126.57" y="367.2" text-anchor="middle">0.5</text>
<text x="183.13" y="367.2" text-anchor="middle">1</text>
<text x="239.70" y="367.2" text-anchor="middle">1.5</text>
<text x="296.27" y="367.2" text-anchor="middle">2</text>
<text x="352.83" y="367.2" text-anchor="middle">2.5</text>
<text x="409.40" y="367.2" text-anchor="middle">3</text>
<text x="180.8" y="105.8" font-size="15.6">K=2</text>
<text x="180.8" y="199.8" font-size="15.6">K=1</text>
<text x="202.3" y="387.4">p<tspan font-size="12.8" dy="5.5">lab</tspan><tspan dy="-5.5" dx="-0.9"> [GeV]</tspan></text>
<text transform="translate(17.2,207) rotate(-90)"><tspan font-family="'Liberation Serif', serif" font-size="17.5">σ</tspan><tspan font-size="12.8" dy="4.6"><tspan font-family="'Liberation Serif', serif" font-size="13.5">ω</tspan>N</tspan><tspan dy="-4.6" dx="-1.1"> [mb]</tspan></text>
</g>
</svg>
</body></html>
